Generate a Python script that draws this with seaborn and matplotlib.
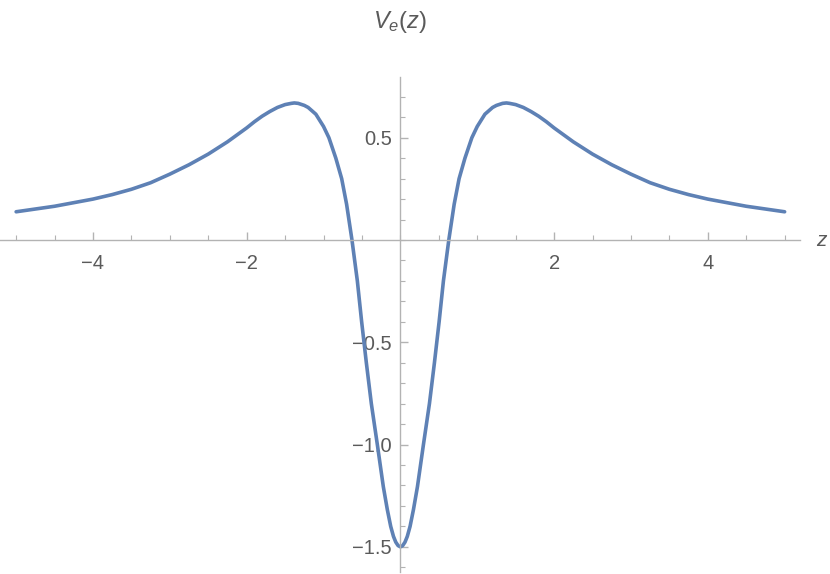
import matplotlib
matplotlib.use("Agg")
import matplotlib.pyplot as plt
import seaborn as sns
from matplotlib.ticker import MultipleLocator, FixedLocator

# curve (z, V_e(z))
z_vals = [-5.0, -4.5, -4.0, -3.75, -3.5, -3.25, -3.0, -2.75, -2.5, -2.25, -2.0,
          -1.9, -1.8, -1.7, -1.6, -1.5, -1.42, -1.38, -1.33, -1.25, -1.2, -1.1,
          -1.0, -0.93, -0.84, -0.764, -0.70, -0.63, -0.56, -0.504, -0.443,
          -0.378, -0.30, -0.222, -0.17, -0.126, -0.09, -0.06, -0.03, 0.0,
          0.03, 0.06, 0.09, 0.126, 0.17, 0.222, 0.30, 0.378, 0.443, 0.504,
          0.56, 0.63, 0.70, 0.764, 0.84, 0.93, 1.0, 1.1, 1.2, 1.25, 1.33, 1.38,
          1.42, 1.5, 1.6, 1.7, 1.8, 1.9, 2.0, 2.25, 2.5, 2.75, 3.0, 3.25, 3.5,
          3.75, 4.0, 4.5, 5.0]
v_vals = [0.138, 0.165, 0.200, 0.222, 0.248, 0.280, 0.322, 0.368, 0.420, 0.480, 0.548,
          0.578, 0.605, 0.628, 0.648, 0.662, 0.668, 0.670, 0.668, 0.658, 0.648, 0.615,
          0.555, 0.50, 0.40, 0.30, 0.175, 0.0, -0.20, -0.40, -0.60,
          -0.80, -1.0, -1.206, -1.318, -1.40, -1.449, -1.477, -1.494, -1.50,
          -1.494, -1.477, -1.449, -1.40, -1.318, -1.206, -1.0, -0.80, -0.60, -0.40,
          -0.20, 0.0, 0.175, 0.30, 0.40, 0.50, 0.555, 0.615, 0.648, 0.658, 0.668, 0.670,
          0.668, 0.662, 0.648, 0.628, 0.605, 0.578, 0.548, 0.480, 0.420, 0.368, 0.322,
          0.280, 0.248, 0.222, 0.200, 0.165, 0.138]

x_major = [-4, -2, 2, 4]
x_labels = ["\u22124", "\u22122", "2", "4"]
y_major = [-1.5, -1.0, -0.5, 0.5]
y_labels = ["\u22121.5", "\u22121.0", "\u22120.5", "0.5"]

sns.set_style("white")
plt.rcParams["font.family"] = ["Liberation Sans", "DejaVu Sans"]
plt.rcParams["mathtext.fontset"] = "custom"
plt.rcParams["mathtext.it"] = "Liberation Sans:italic"
plt.rcParams["mathtext.rm"] = "Liberation Sans"

axis_col = "#b3b3b3"
text_col = "#5a5a5a"

fig = plt.figure(figsize=(8.3, 5.74), dpi=100)
ax = fig.add_axes([0.0, 0.0035, 800 / 830, 0.8624])

sns.lineplot(x=z_vals, y=v_vals, ax=ax, color="#5E81B5", linewidth=2.6, sort=False)

ax.set_xlim(-5.21, 5.2)
ax.set_ylim(-1.623, 0.797)

# Mathematica style axes crossing at the origin
ax.spines["left"].set_position(("data", 0))
ax.spines["bottom"].set_position(("data", 0))
ax.spines["right"].set_visible(False)
ax.spines["top"].set_visible(False)
for s in ("left", "bottom"):
    ax.spines[s].set_visible(True)
    ax.spines[s].set_color(axis_col)
    ax.spines[s].set_linewidth(1.0)

ax.xaxis.set_major_locator(FixedLocator(x_major))
ax.set_xticklabels(x_labels)
ax.xaxis.set_minor_locator(MultipleLocator(0.5))
ax.yaxis.set_major_locator(FixedLocator(y_major))
ax.set_yticklabels(y_labels)
ax.yaxis.set_minor_locator(MultipleLocator(0.1))

ax.tick_params(axis="both", which="major", direction="in", length=6, width=1,
               color=axis_col, labelcolor=text_col, labelsize=14.5)
ax.tick_params(axis="both", which="minor", direction="in", length=3.5, width=0.8,
               color=axis_col)
ax.tick_params(axis="x", which="major", pad=10)
ax.tick_params(axis="y", which="major", pad=6)
ax.tick_params(axis="x", which="both", bottom=True)
ax.tick_params(axis="y", which="both", left=True)

ax.set_xlabel("")
ax.set_ylabel("")
ax.grid(False)

ax.annotate("$z$", xy=(1, 0), xycoords=("axes fraction", "data"),
            xytext=(16, 0), textcoords="offset points",
            ha="center", va="center", fontsize=15, color=text_col)
fig.text(400 / 830, 1 - 22 / 574, "$V_e(z)$", ha="center", va="center",
         fontsize=17, color=text_col)

fig.savefig("out.png", dpi=100)
